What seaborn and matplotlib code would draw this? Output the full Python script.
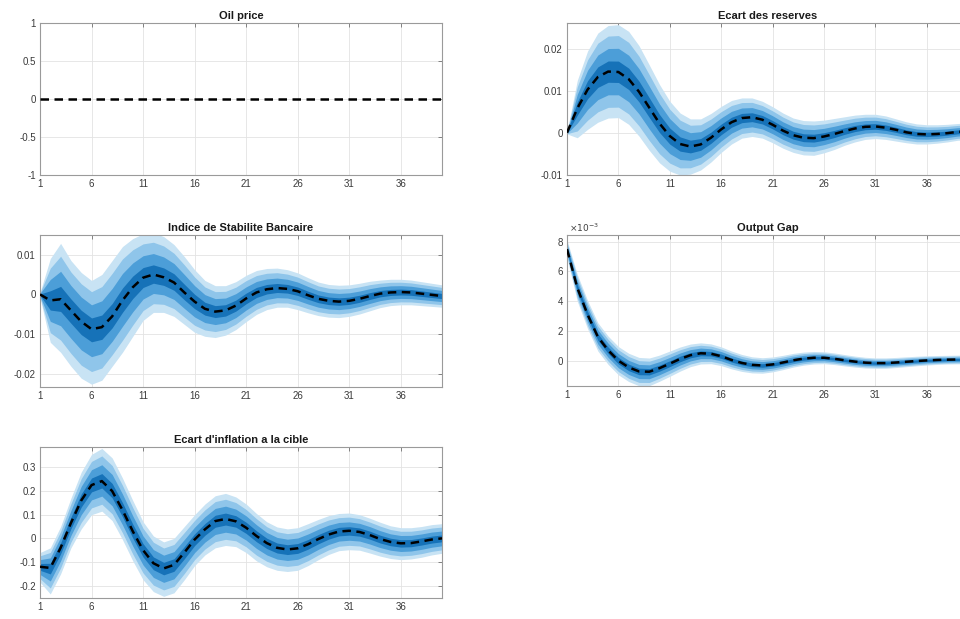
import numpy as np
import pandas as pd
import matplotlib
matplotlib.use("Agg")
import matplotlib.pyplot as plt
import seaborn as sns
from matplotlib.ticker import FuncFormatter

# ---------------- data ----------------
periods = list(range(1, 41))
xticks = [1, 6, 11, 16, 21, 26, 31, 36]

titles = ["Oil price", "Ecart des reserves", "Indice de Stabilite Bancaire",
          "Output Gap", "Ecart d'inflation a la cible"]

oil_med = [0.0] * 40

res_med = [0, 0.0058, 0.0103, 0.0133, 0.0146, 0.0145, 0.0128, 0.0098, 0.0060, 0.0022,
           -0.0008, -0.0027, -0.0033, -0.0028, -0.0012, 0.0008, 0.0025, 0.0035, 0.0037, 0.0031,
           0.0019, 0.0005, -0.0006, -0.0012, -0.0013, -0.0009, -0.0003, 0.0004, 0.0010, 0.0014,
           0.0015, 0.0012, 0.0007, 0.0001, -0.0003, -0.0004, -0.0003, -0.0001, 0.0002, 0.0003]
res_up = [0.0003, 0.0125, 0.0195, 0.0238, 0.0256, 0.0258, 0.0242, 0.0208, 0.0162, 0.0115,
          0.0075, 0.0047, 0.0033, 0.0033, 0.0046, 0.0063, 0.0077, 0.0083, 0.0083, 0.0075,
          0.0062, 0.0047, 0.0035, 0.0029, 0.0028, 0.0030, 0.0034, 0.0038, 0.0042, 0.0044,
          0.0044, 0.0040, 0.0033, 0.0026, 0.0021, 0.0019, 0.0019, 0.0020, 0.0022, 0.0023]
res_lo = [-0.0003, -0.0012, 0.0008, 0.0025, 0.0035, 0.0036, 0.0020, -0.0008, -0.0042, -0.0072,
          -0.0092, -0.0101, -0.0099, -0.0089, -0.0070, -0.0047, -0.0027, -0.0013, -0.0009, -0.0013,
          -0.0024, -0.0037, -0.0047, -0.0053, -0.0054, -0.0048, -0.0040, -0.0030, -0.0022, -0.0016,
          -0.0014, -0.0016, -0.0020, -0.0024, -0.0027, -0.0027, -0.0025, -0.0022, -0.0018, -0.0017]

isb_med = [0, -0.0015, -0.0012, -0.0040, -0.0068, -0.0087, -0.0082, -0.0055, -0.0015, 0.0018,
           0.0042, 0.0050, 0.0043, 0.0030, 0.0005, -0.0018, -0.0036, -0.0043, -0.0040, -0.0028,
           -0.0010, 0.0005, 0.0013, 0.0016, 0.0014, 0.0008, -0.0002, -0.0011, -0.0016, -0.0018,
           -0.0016, -0.0011, -0.0004, 0.0002, 0.0005, 0.0006, 0.0005, 0.0002, -0.0001, -0.0004]
isb_up = [0.0005, 0.0090, 0.0128, 0.0085, 0.0055, 0.0035, 0.0050, 0.0085, 0.0120, 0.0140,
          0.0152, 0.0155, 0.0145, 0.0125, 0.0095, 0.0062, 0.0035, 0.0022, 0.0022, 0.0032,
          0.0048, 0.0060, 0.0065, 0.0066, 0.0062, 0.0054, 0.0042, 0.0031, 0.0025, 0.0023,
          0.0024, 0.0028, 0.0033, 0.0036, 0.0038, 0.0038, 0.0036, 0.0032, 0.0028, 0.0024]
isb_lo = [-0.0008, -0.0120, -0.0145, -0.0180, -0.0210, -0.0225, -0.0215, -0.0180, -0.0145, -0.0105,
          -0.0065, -0.0045, -0.0045, -0.0055, -0.0075, -0.0095, -0.0105, -0.0108, -0.0102, -0.0088,
          -0.0068, -0.0050, -0.0038, -0.0032, -0.0032, -0.0038, -0.0046, -0.0053, -0.0057, -0.0058,
          -0.0055, -0.0049, -0.0041, -0.0033, -0.0028, -0.0026, -0.0026, -0.0028, -0.0030, -0.0032]

# output gap, in units of 1e-3
og_med_e3 = [7.5, 4.9, 3.1, 1.6, 0.7, 0.0, -0.45, -0.72, -0.74, -0.5,
             -0.2, 0.12, 0.37, 0.5, 0.47, 0.3, 0.05, -0.15, -0.28, -0.32,
             -0.25, -0.12, 0.03, 0.14, 0.2, 0.2, 0.13, 0.03, -0.06, -0.13,
             -0.16, -0.16, -0.12, -0.07, -0.02, 0.02, 0.05, 0.07, 0.08, 0.08]
og_up_e3 = [8.1, 5.8, 4.05, 2.55, 1.65, 0.95, 0.5, 0.22, 0.18, 0.38,
            0.65, 0.92, 1.12, 1.2, 1.13, 0.93, 0.65, 0.42, 0.26, 0.2,
            0.25, 0.36, 0.49, 0.58, 0.62, 0.6, 0.52, 0.41, 0.31, 0.23,
            0.19, 0.19, 0.22, 0.26, 0.3, 0.33, 0.35, 0.36, 0.37, 0.37]
og_lo_e3 = [6.9, 4.0, 2.15, 0.65, -0.25, -0.95, -1.4, -1.68, -1.68, -1.38,
            -1.05, -0.7, -0.4, -0.22, -0.2, -0.33, -0.55, -0.72, -0.82, -0.84,
            -0.75, -0.6, -0.43, -0.3, -0.22, -0.2, -0.26, -0.35, -0.43, -0.49,
            -0.51, -0.51, -0.46, -0.4, -0.34, -0.29, -0.25, -0.22, -0.21, -0.21]

inf_med = [-0.12, -0.125, -0.04, 0.065, 0.16, 0.225, 0.242, 0.2, 0.12, 0.03,
           -0.05, -0.105, -0.127, -0.112, -0.06, -0.005, 0.038, 0.073, 0.082, 0.072,
           0.045, 0.01, -0.02, -0.04, -0.047, -0.042, -0.025, -0.003, 0.016, 0.029,
           0.032, 0.027, 0.014, -0.003, -0.015, -0.021, -0.02, -0.013, -0.005, 0.0]
inf_up = [-0.06, -0.04, 0.05, 0.17, 0.28, 0.355, 0.38, 0.34, 0.255, 0.16,
          0.07, 0.01, -0.015, 0.0, 0.05, 0.1, 0.145, 0.18, 0.19, 0.175,
          0.145, 0.105, 0.07, 0.048, 0.04, 0.045, 0.062, 0.08, 0.096, 0.105,
          0.107, 0.1, 0.085, 0.068, 0.053, 0.045, 0.045, 0.05, 0.058, 0.062]
inf_lo = [-0.185, -0.235, -0.15, -0.04, 0.04, 0.1, 0.115, 0.075, -0.005, -0.095,
          -0.175, -0.225, -0.245, -0.23, -0.175, -0.115, -0.07, -0.04, -0.03, -0.035,
          -0.06, -0.095, -0.12, -0.135, -0.14, -0.135, -0.115, -0.09, -0.068, -0.052,
          -0.048, -0.05, -0.062, -0.075, -0.085, -0.09, -0.087, -0.08, -0.07, -0.063]

band_fracs = [1.0, 0.77, 0.5, 0.23]
band_colors = ["#c8e3f4", "#8fc5ea", "#4c9ed8", "#1672b8"]

# ---------------- style ----------------
sns.set_theme(style="white")
plt.rcParams["font.family"] = ["Liberation Sans", "DejaVu Sans"]
plt.rcParams["axes.unicode_minus"] = False

fig = plt.figure(figsize=(9.6, 6.19), dpi=100)

H = 619.0
W = 960.0
def pos(l, r, t, b):
    return [l / W, 1 - b / H, (r - l) / W, (b - t) / H]

panels = [
    dict(title=titles[0], med=oil_med, up=None, lo=None, scale=1.0,
         rect=pos(40, 442, 23, 175), ylim=(-1, 1), yticks=[-1, -0.5, 0, 0.5, 1]),
    dict(title=titles[1], med=res_med, up=res_up, lo=res_lo, scale=1.0,
         rect=pos(567, 968, 23, 175), ylim=(-0.0101, 0.0262), yticks=[-0.01, 0, 0.01, 0.02]),
    dict(title=titles[2], med=isb_med, up=isb_up, lo=isb_lo, scale=1.0,
         rect=pos(40, 442, 235, 387), ylim=(-0.0232, 0.0149), yticks=[-0.02, -0.01, 0, 0.01]),
    dict(title=titles[3], med=og_med_e3, up=og_up_e3, lo=og_lo_e3, scale=1e-3,
         rect=pos(567, 968, 235, 386), ylim=(-1.7e-3, 8.45e-3), yticks=[0, 2e-3, 4e-3, 6e-3, 8e-3]),
    dict(title=titles[4], med=inf_med, up=inf_up, lo=inf_lo, scale=1.0,
         rect=pos(40, 442, 447, 598), ylim=(-0.252, 0.386), yticks=[-0.2, -0.1, 0, 0.1, 0.2, 0.3]),
]

for p in panels:
    ax = fig.add_axes(p["rect"])
    s = p["scale"]
    df = pd.DataFrame({"t": periods,
                       "med": np.array(p["med"], dtype=float) * s})
    if p["up"] is not None:
        df["up"] = np.array(p["up"], dtype=float) * s
        df["lo"] = np.array(p["lo"], dtype=float) * s
        for f, c in zip(band_fracs, band_colors):
            lower = df["med"] - f * (df["med"] - df["lo"])
            upper = df["med"] + f * (df["up"] - df["med"])
            ax.fill_between(df["t"], lower, upper, color=c, lw=0, zorder=2)
    sns.lineplot(data=df, x="t", y="med", ax=ax, color="black", lw=1.8,
                 linestyle=(0, (3.4, 2.2)), zorder=3)

    ax.set_xlim(1, 40)
    ax.set_ylim(*p["ylim"])
    ax.set_xticks(xticks)
    ax.set_yticks(p["yticks"])
    if s != 1.0:
        ax.yaxis.set_major_formatter(FuncFormatter(lambda v, _: "%g" % round(v * 1e3, 6)))
        ax.text(0.005, 1.005, r"$\times10^{-3}$", transform=ax.transAxes,
                fontsize=6.5, color="#404040", ha="left", va="bottom")
    else:
        ax.yaxis.set_major_formatter(FuncFormatter(lambda v, _: "%g" % round(v, 6)))
    ax.set_xlabel("")
    ax.set_ylabel("")
    ax.set_title(p["title"], fontsize=8, fontweight="bold", color="#1a1a1a", pad=3)
    ax.grid(True, color="#e3e3e3", lw=0.6, zorder=0)
    ax.set_axisbelow(True)
    ax.tick_params(direction="in", top=True, right=True, length=3, width=0.6,
                   color="#707070", labelsize=7, labelcolor="#3a3a3a", pad=3)
    for sp in ax.spines.values():
        sp.set_color("#9a9a9a")
        sp.set_linewidth(0.8)
        sp.set_visible(True)

fig.savefig("out.png", dpi=100)
